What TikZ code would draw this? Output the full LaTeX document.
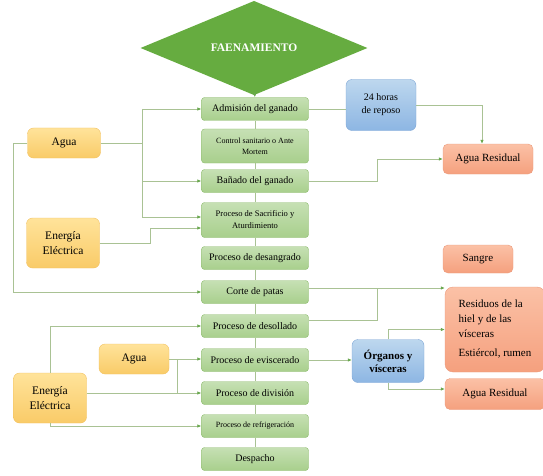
\documentclass[tikz,border=0pt]{standalone}
\usepackage{fontspec}
\setmainfont{Liberation Serif}
\usetikzlibrary{calc,arrows.meta,positioning,shapes.geometric}

\definecolor{etapaTop}{HTML}{C6E0B4}
\definecolor{etapaBot}{HTML}{A8CF8C}
\definecolor{etapaEdge}{HTML}{8CBA6C}
\definecolor{rombo}{HTML}{66AC40}
\definecolor{insumoTop}{HTML}{FFE39A}
\definecolor{insumoBot}{HTML}{F9CB68}
\definecolor{insumoEdge}{HTML}{F2C160}
\definecolor{salidaTop}{HTML}{FBC1A6}
\definecolor{salidaBot}{HTML}{F5A07E}
\definecolor{salidaEdge}{HTML}{EB9A7C}
\definecolor{mediaTop}{HTML}{BDD7EE}
\definecolor{mediaBot}{HTML}{8DB6E3}
\definecolor{mediaEdge}{HTML}{7FA7D6}
\definecolor{wire}{HTML}{A9C294}
\definecolor{tip}{HTML}{6AA84F}

\begin{document}
\begin{tikzpicture}[x=1pt, y=-1pt, >={Latex[length=4pt,width=3.6pt]},
    link/.style={draw=wire, line width=0.9pt, -{Latex[length=4pt,width=3.6pt,color=tip]}},
    plain/.style={draw=wire, line width=0.9pt}]
    % Define styles for the boxes
    \tikzstyle{etapa} = [draw=etapaEdge, top color=etapaTop, bottom color=etapaBot, rounded corners=3pt, minimum width=107pt, minimum height=23pt, align=center, inner sep=2pt, font=\fontsize{10}{11}\selectfont]
    \tikzstyle{chica} = [font=\fontsize{8}{11}\selectfont]
    \tikzstyle{insumo} = [draw=insumoEdge, top color=insumoTop, bottom color=insumoBot, rounded corners=6pt, minimum width=73pt, align=center, font=\fontsize{11.5}{15}\selectfont]
    \tikzstyle{salida} = [draw=salidaEdge, top color=salidaTop, bottom color=salidaBot, rounded corners=5pt, minimum height=30pt, align=center, font=\fontsize{11}{13}\selectfont]
    \tikzstyle{media} = [draw=mediaEdge, top color=mediaTop, bottom color=mediaBot, rounded corners=6pt, align=center]
    \useasboundingbox (0,0) rectangle (543,476);

    % Nodes placement
    \node [diamond, fill=rombo, minimum width=227pt, minimum height=67pt, inner sep=0pt, text=white, font=\fontsize{11.5}{13}\selectfont\bfseries] (faena) at (254,48) {FAENAMIENTO};

    \node [etapa] (admision) at (255,109) {Admisión del ganado};
    \node [etapa, chica, minimum height=34pt] (control) at (255,146) {Control sanitario o Ante\\Mortem};
    \node [etapa] (banado) at (255,181) {Bañado del ganado};
    \node [etapa, chica, minimum height=35pt, font=\fontsize{8.5}{12}\selectfont] (sacrificio) at (255,220) {Proceso de Sacrificio y\\Aturdimiento};
    \node [etapa] (desangrado) at (255,258) {Proceso de desangrado};
    \node [etapa] (corte) at (255,292) {Corte de patas};
    \node [etapa] (desollado) at (255,326) {Proceso de desollado};
    \node [etapa] (eviscerado) at (255,360) {Proceso de eviscerado};
    \node [etapa] (division) at (255,393) {Proceso de división};
    \node [etapa, chica] (refrigeracion) at (255,426) {Proceso de refrigeración};
    \node [etapa] (despacho) at (255,459) {Despacho};

    \node [insumo, minimum height=30pt] (agua1) at (64,143) {Agua};
    \node [insumo, minimum height=50pt] (energia1) at (63,243) {Energía\\Eléctrica};
    \node [insumo, minimum height=50pt] (energia2) at (50,398) {Energía\\Eléctrica};
    \node [insumo, minimum width=70pt, minimum height=30pt] (agua2) at (134,359) {Agua};

    \node [media, minimum width=70pt, minimum height=51pt, font=\fontsize{10}{13}\selectfont] (horas) at (381,105) {24 horas\\de reposo};
    \node [media, minimum width=72pt, minimum height=43pt, font=\fontsize{11}{13}\selectfont\bfseries] (organos) at (388,361) {Órganos y\\vísceras};

    \node [salida, minimum width=90pt] (aguares1) at (488,159) {Agua Residual};
    \node [salida, minimum width=70pt, minimum height=28pt] (sangre) at (478,259) {Sangre};
    \node [salida, minimum width=100pt, minimum height=85pt, align=left, rounded corners=8pt, font=\fontsize{11}{15}\selectfont] (residuos) at (495,329.5) {Residuos de la\\hiel y de las\\vísceras\\[4pt]Estiércol, rumen};
    \node [salida, minimum width=100pt, minimum height=31pt] (aguares2) at (495,394) {Agua Residual};

    % Bend points
    \coordinate (aguaBus) at (142,109);
    \coordinate (aguaLeft) at (13,292);
    \coordinate (eeBend) at (150,228);
    \coordinate (aguaTap) at (177,359);
    \coordinate (banBend) at (377,159);
    \coordinate (resIn) at (residuos.west |- 0,288);
    \coordinate (desBend) at (377,288);

    % Draw edges
    \draw [link] (faena) -- (admision);
    \foreach \a/\b in {admision/control, control/banado, banado/sacrificio, sacrificio/desangrado, desangrado/corte, corte/desollado, desollado/eviscerado, eviscerado/division, division/refrigeracion, refrigeracion/despacho}
        \draw [plain] (\a.south) -- (\b.north);

    % Inputs on the left
    \draw [plain] (agua1.east) -- (aguaBus |- agua1.east);
    \draw [plain] (aguaBus) -- (aguaBus |- 0,217);
    \draw [link] (aguaBus) -- (admision.west);
    \draw [link] (aguaBus |- banado.west) -- (banado.west);
    \draw [link] (aguaBus |- 0,217) -- (sacrificio.west |- 0,217);
    \draw [link] (energia1.east) -| (eeBend) -- (sacrificio.west |- eeBend);
    \draw [link] (agua1.west) -| (aguaLeft) -- (corte.west);
    \draw [link] (energia2.north) |- (desollado.west);
    \draw [link] (agua2.east) -- (eviscerado.west |- agua2.east);
    \draw [plain] (aguaTap) -- (aguaTap |- division.west);
    \draw [link] (energia2.east |- division.west) -- (division.west);
    \draw [link] (energia2.south) |- (refrigeracion.west);

    % Outputs on the right
    \draw [plain] (admision.east) -- (admision.east -| horas.west);
    \draw [link] (horas.east) -| ([xshift=-6pt]aguares1.north);
    \draw [link] (banado.east) -| (banBend) -- (aguares1.west);
    \draw [link] (corte.east |- resIn) -- (resIn);
    \draw [plain] ([yshift=6pt]desollado.east) -| (desBend);
    \draw [link] (eviscerado.east) -- (organos.west |- eviscerado.east);
    \draw [link] (organos.north) |- (residuos.west);
    \draw [link] (organos.south) |- (aguares2.west |- 0,389);
\end{tikzpicture}
\end{document}
